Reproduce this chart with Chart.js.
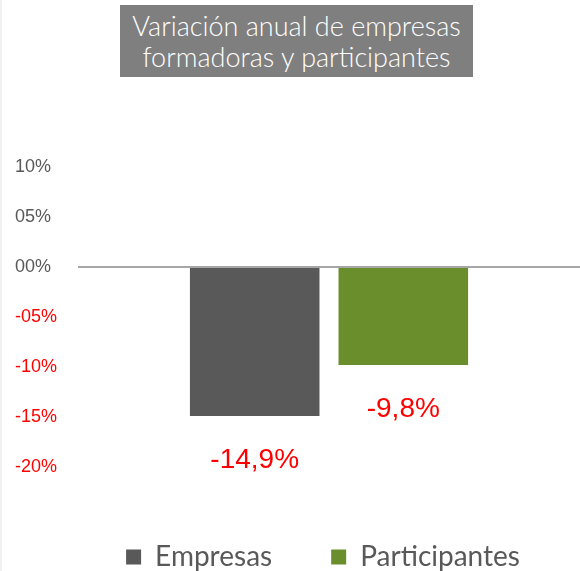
<!DOCTYPE html>
<html>
<head>
<meta charset="utf-8">
<script src="https://cdn.jsdelivr.net/npm/chart.js@4.4.0/dist/chart.umd.min.js"></script>
<style>
    html, body { margin: 0; padding: 0; background: #ffffff; }
    #wrap { position: relative; width: 580px; height: 571px; overflow: hidden; }
    #edge { position: absolute; left: 0; top: 0; width: 2px; height: 571px; background: #f0f0f0; }
    #title {
        position: absolute; left: 120px; top: 5px; width: 353px; height: 72px;
        background: #7f7f7f; color: #ffffff;
        font-family: Lato, "Open Sans", sans-serif; font-weight: 300; font-size: 27px;
        line-height: 31px; text-align: center; white-space: nowrap;
        display: flex; align-items: center; justify-content: center;
    }
</style>
</head>
<body>
<div id="wrap">
    <canvas id="chart" width="580" height="571"></canvas>
    <div id="edge"></div>
    <div id="title">Variación anual de empresas<br>formadoras y participantes</div>
</div>
<script>
// datos del gráfico
const categories = ['Variación anual'];
const seriesNames = ['Empresas', 'Participantes'];
const empresas = [-14.9];
const participantes = [-9.8];
const valueLabels = ['-14,9%', '-9,8%'];
const yTicks = [10, 5, 0, -5, -10, -15, -20];

const seriesColors = ['#595959', '#6b8e2d'];

// etiqueta roja debajo de cada barra
const valueLabelPlugin = {
    id: 'valueLabels',
    afterDatasetsDraw(chart) {
        const ctx = chart.ctx;
        ctx.save();
        ctx.font = '28px "Liberation Sans", Arial, sans-serif';
        ctx.fillStyle = '#ff0000';
        ctx.textAlign = 'center';
        ctx.textBaseline = 'middle';
        chart.data.datasets.forEach((ds, i) => {
            chart.getDatasetMeta(i).data.forEach(bar => {
                ctx.fillText(valueLabels[i], bar.x, bar.y + 44);
            });
        });
        ctx.restore();
    }
};

// mueve la leyenda hacia abajo y un poco a la derecha
const legendShiftPlugin = {
    id: 'legendShift',
    afterLayout(chart) {
        const lg = chart.legend;
        const pad = lg.options.labels.padding;
        const size = lg.options.labels.font.size;
        const dy = 557 - (lg.top + pad + size / 2);
        lg.top += dy;
        lg.bottom += dy;
        const dx = 323 - (lg.left + lg.right) / 2;
        lg.left += dx;
        lg.right += dx;
    }
};

const ctx = document.getElementById('chart').getContext('2d');

new Chart(ctx, {
    type: 'bar',
    data: {
        labels: categories,
        datasets: [
            {
                label: seriesNames[0],
                data: empresas,
                backgroundColor: seriesColors[0],
                borderWidth: 0,
                categoryPercentage: 0.592,
                barPercentage: 0.872
            },
            {
                label: seriesNames[1],
                data: participantes,
                backgroundColor: seriesColors[1],
                borderWidth: 0,
                categoryPercentage: 0.592,
                barPercentage: 0.872
            }
        ]
    },
    options: {
        responsive: false,
        animation: false,
        layout: {
            padding: { top: 167, left: 15, right: 0, bottom: 7 }
        },
        plugins: {
            title: { display: false },
            tooltip: { enabled: false },
            legend: {
                position: 'bottom',
                labels: {
                    boxWidth: 15,
                    boxHeight: 15,
                    padding: 59,
                    color: '#595959',
                    font: { family: 'Lato, "Open Sans", sans-serif', size: 28, weight: 400 }
                }
            }
        },
        scales: {
            x: {
                display: false
            },
            y: {
                min: -20,
                max: 10,
                afterFit: scale => { scale.width = 63; },
                afterBuildTicks: scale => {
                    scale.ticks = yTicks.map(v => ({ value: v }));
                },
                border: { display: false },
                grid: {
                    drawTicks: false,
                    lineWidth: 2,
                    color: c => (c.tick && c.tick.value === 0) ? '#a6a6a6' : 'rgba(0,0,0,0)'
                },
                ticks: {
                    crossAlign: 'far',
                    padding: 0,
                    font: { family: '"Liberation Sans", Arial, sans-serif', size: 18 },
                    color: c => c.tick.value < 0 ? '#ff0000' : '#595959',
                    callback: v => (v < 0 ? '-' : '') + String(Math.abs(v)).padStart(2, '0') + '%'
                }
            }
        }
    },
    plugins: [valueLabelPlugin, legendShiftPlugin]
});
</script>
</body>
</html>
